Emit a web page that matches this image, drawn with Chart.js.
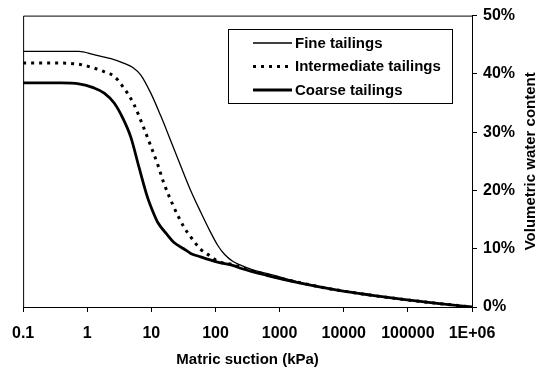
<!DOCTYPE html>
<html><head><meta charset="utf-8">
<script src="https://cdn.jsdelivr.net/npm/chart.js@4/dist/chart.umd.min.js"></script>
<style>html,body{margin:0;padding:0;background:#fff;overflow:hidden}#wrap{width:539px;height:369px;position:relative}</style>
</head><body><div id="wrap"><canvas id="c" width="539" height="369"></canvas></div>
<script>
// ---- data ----
const seriesLabels = ['Fine tailings', 'Intermediate tailings', 'Coarse tailings'];
const xTickValues = [0.1, 1, 10, 100, 1000, 10000, 100000, 1000000];
const yTickValues = [0, 10, 20, 30, 40, 50];

const fineSuction = [0.1, 0.39, 0.74, 1.27, 2.34, 3.77, 5.14, 6.85, 9.8, 14, 20.1, 28.7, 41, 58.7, 84, 108, 139, 185, 246, 392, 647, 2110, 7940, 25900, 84300, 285000, 1000000];
const fineWater   = [43.86, 43.86, 43.86, 43.3, 42.6, 41.8, 41.1, 39.8, 36.7, 32.8, 28.5, 24.2, 20.0, 16.3, 12.8, 10.6, 9.0, 7.85, 7.17, 6.31, 5.72, 4.2, 2.9, 2.05, 1.3, 0.63, 0];

const interSuction = [0.1, 0.39, 0.74, 1.27, 1.82, 2.61, 3.72, 5.33, 7.63, 9.8, 12.6, 15.6, 22.3, 31.9, 42.5, 58.7, 84, 108, 191, 246, 647, 2110, 7940, 25900, 84300, 285000, 1000000];
const interWater   = [41.86, 41.86, 41.64, 41.0, 40.4, 39.6, 37.6, 34.8, 30.7, 27.6, 24.4, 21.3, 17.2, 13.8, 11.8, 9.9, 8.7, 7.85, 7.25, 6.8, 5.5, 4.15, 2.9, 2.05, 1.3, 0.63, 0];

const coarseSuction = [0.1, 0.39, 0.74, 1.27, 1.84, 2.63, 3.55, 4.79, 6.44, 8.71, 10.9, 12.6, 18, 22.3, 31.9, 41, 58.7, 108, 191, 246, 647, 2110, 7940, 25900, 84300, 285000, 1000000];
const coarseWater   = [38.45, 38.45, 38.3, 37.6, 36.7, 35.0, 32.5, 29.1, 23.9, 18.8, 16.0, 14.5, 12.3, 11.1, 10.0, 9.2, 8.6, 7.7, 7.1, 6.65, 5.4, 4.1, 2.9, 2.05, 1.3, 0.63, 0];

const FONT = "'Liberation Sans', Arial, sans-serif";
const toPoints = (xs, ys) => xs.map((x, i) => ({x: x, y: ys[i]}));

const datasets = [
  {label: seriesLabels[0], data: toPoints(fineSuction, fineWater), borderColor: '#000', borderWidth: 1.3, borderDash: []},
  {label: seriesLabels[1], data: toPoints(interSuction, interWater), borderColor: '#000', borderWidth: 3, borderDash: [3, 5]},
  {label: seriesLabels[2], data: toPoints(coarseSuction, coarseWater), borderColor: '#000', borderWidth: 2.8, borderDash: []}
].map(d => Object.assign(d, {showLine: true, pointRadius: 0, cubicInterpolationMode: 'monotone', fill: false}));

const framePlugin = {
  id: 'frame',
  beforeDatasetsDraw(chart) {
    const {ctx, chartArea: a} = chart;
    ctx.save();
    ctx.strokeStyle = '#000';
    ctx.lineWidth = 1;
    ctx.beginPath();
    ctx.moveTo(a.left + 0.5, a.bottom);
    ctx.lineTo(a.left + 0.5, a.top + 0.5);
    ctx.lineTo(a.right, a.top + 0.5);
    ctx.stroke();
    ctx.restore();
  }
};

const legendPlugin = {
  id: 'boxLegend',
  afterDatasetsDraw(chart) {
    const {ctx} = chart;
    const bx = 228.5, by = 29.5, bw = 224, bh = 74;
    ctx.save();
    ctx.fillStyle = '#fff';
    ctx.fillRect(bx, by, bw, bh);
    ctx.strokeStyle = '#000';
    ctx.lineWidth = 1;
    ctx.setLineDash([]);
    ctx.strokeRect(bx, by, bw, bh);
    const rows = [43, 66.5, 90];
    chart.data.datasets.forEach((ds, i) => {
      const y = rows[i];
      ctx.beginPath();
      ctx.lineWidth = ds.borderWidth;
      ctx.setLineDash(ds.borderDash || []);
      ctx.strokeStyle = ds.borderColor;
      ctx.moveTo(253, y);
      ctx.lineTo(292, y);
      ctx.stroke();
      ctx.setLineDash([]);
      ctx.fillStyle = '#000';
      ctx.font = 'bold 15px ' + FONT;
      ctx.textAlign = 'left';
      ctx.textBaseline = 'middle';
      ctx.fillText(ds.label, 295, y + 0.5);
    });
    ctx.restore();
  }
};

const yTitlePlugin = {
  id: 'yTitle',
  afterDraw(chart) {
    const {ctx, chartArea: a} = chart;
    ctx.save();
    ctx.translate(531, (a.top + a.bottom) / 2);
    ctx.rotate(-Math.PI / 2);
    ctx.fillStyle = '#000';
    ctx.font = 'bold 15px ' + FONT;
    ctx.textAlign = 'center';
    ctx.textBaseline = 'middle';
    ctx.fillText('Volumetric water content', 0, 0);
    ctx.restore();
  }
};

new Chart(document.getElementById('c'), {
  type: 'scatter',
  data: {datasets: datasets},
  options: {
    responsive: false,
    animation: false,
    layout: {padding: {left: 22, top: 14, right: 0, bottom: 0}},
    plugins: {legend: {display: false}, tooltip: {enabled: false}},
    scales: {
      x: {
        type: 'logarithmic', min: 0.1, max: 1000000, position: 'bottom',
        afterBuildTicks: s => { s.ticks = xTickValues.map(v => ({value: v, major: true})); },
        afterFit: s => { s.height = 62; },
        ticks: {
          autoSkip: false, maxRotation: 0, minRotation: 0, padding: 12, color: '#000',
          font: {family: FONT, size: 16, weight: 'bold'},
          callback: v => (v === 1000000 ? '1E+06' : String(v))
        },
        grid: {display: true, drawOnChartArea: false, drawTicks: true, tickLength: 5, color: '#000', lineWidth: 1},
        border: {display: true, color: '#000', width: 1},
        title: {display: true, text: 'Matric suction (kPa)', color: '#000', font: {family: FONT, size: 15, weight: 'bold'}, padding: {top: 0, bottom: 0}}
      },
      y: {
        position: 'right', min: 0, max: 50,
        afterBuildTicks: s => { s.ticks = yTickValues.map(v => ({value: v})); },
        afterFit: s => { s.width = 67; },
        ticks: {
          padding: 6, color: '#000',
          font: {family: FONT, size: 16, weight: 'bold'},
          callback: v => v + '%'
        },
        grid: {display: true, drawOnChartArea: false, drawTicks: true, tickLength: 5, color: '#000', lineWidth: 1},
        border: {display: true, color: '#000', width: 1}
      }
    }
  },
  plugins: [framePlugin, legendPlugin, yTitlePlugin]
});
</script>
</body></html>
